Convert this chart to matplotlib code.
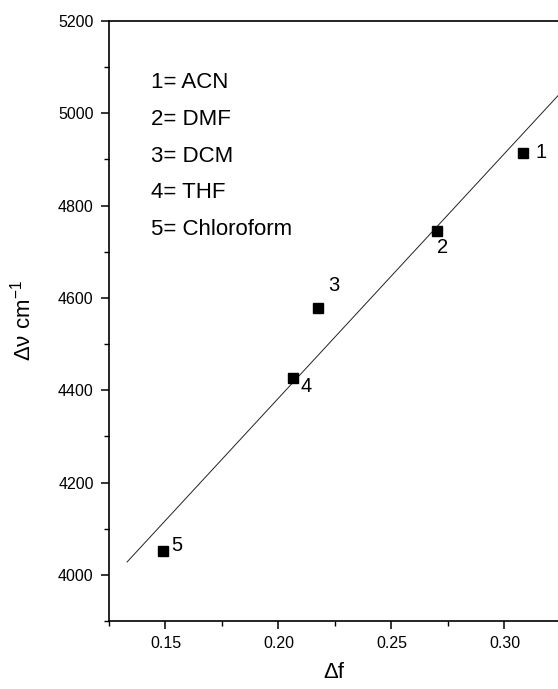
import numpy as np
import matplotlib
matplotlib.use("Agg")
import matplotlib.pyplot as plt
from matplotlib.ticker import MultipleLocator

plt.rcParams['font.family'] = ['Liberation Sans', 'DejaVu Sans']
plt.rcParams['mathtext.fontset'] = 'custom'
plt.rcParams['mathtext.rm'] = 'Liberation Sans'

# Stokes shift vs. orientation polarizability
delta_f = [0.308, 0.270, 0.2177, 0.2066, 0.149]
delta_nu = [4915, 4745, 4578, 4426, 4052]
point_labels = ["1", "2", "3", "4", "5"]
label_offsets = [(9, 0), (0, -12), (7, 16), (5, -6), (6, 4)]
solvents = ["1= ACN", "2= DMF", "3= DCM", "4= THF", "5= Chloroform"]

# linear fit
slope, intercept = np.polyfit(delta_f, delta_nu, 1)
fit_x = np.array([0.133, 0.33])
fit_y = slope * fit_x + intercept

fig = plt.figure(figsize=(5.58, 6.89), dpi=100)
ax = fig.add_axes([109 / 558, 68 / 689, 449 / 558, 600 / 689])

ax.plot(fit_x, fit_y, color='#222222', lw=0.7)
ax.plot(delta_f, delta_nu, 'ks', ms=7.5, mec='black')

for x, y, lab, (dx, dy) in zip(delta_f, delta_nu, point_labels, label_offsets):
    ax.annotate(lab, (x, y), xytext=(dx, dy), textcoords='offset points',
                fontsize=14.5, ha='left', va='center')

for i, s in enumerate(solvents):
    ax.text(0.093, 0.897 - i * 0.061, s, transform=ax.transAxes,
            fontsize=16, ha='left', va='center')

ax.set_xlim(0.125, 0.3237)
ax.set_ylim(3900, 5200)
ax.xaxis.set_major_locator(MultipleLocator(0.05))
ax.xaxis.set_minor_locator(MultipleLocator(0.025))
ax.yaxis.set_major_locator(MultipleLocator(200))
ax.yaxis.set_minor_locator(MultipleLocator(100))
ax.set_xticks([0.15, 0.20, 0.25, 0.30])
ax.set_xticklabels(["0.15", "0.20", "0.25", "0.30"])
ax.set_yticks([4000, 4200, 4400, 4600, 4800, 5000, 5200])

ax.tick_params(which='major', direction='out', length=6, width=1.1, labelsize=11.5, pad=5)
ax.tick_params(which='minor', direction='out', length=3.5, width=1.0)
ax.tick_params(top=False, right=False)

ax.spines['right'].set_visible(False)
for side in ('left', 'bottom', 'top'):
    ax.spines[side].set_linewidth(1.2)

ax.set_xlabel("Δf", fontsize=16, labelpad=8)
ax.set_ylabel("Δν cm$^{-1}$", fontsize=16, labelpad=16)

fig.savefig("out.png", dpi=100)
